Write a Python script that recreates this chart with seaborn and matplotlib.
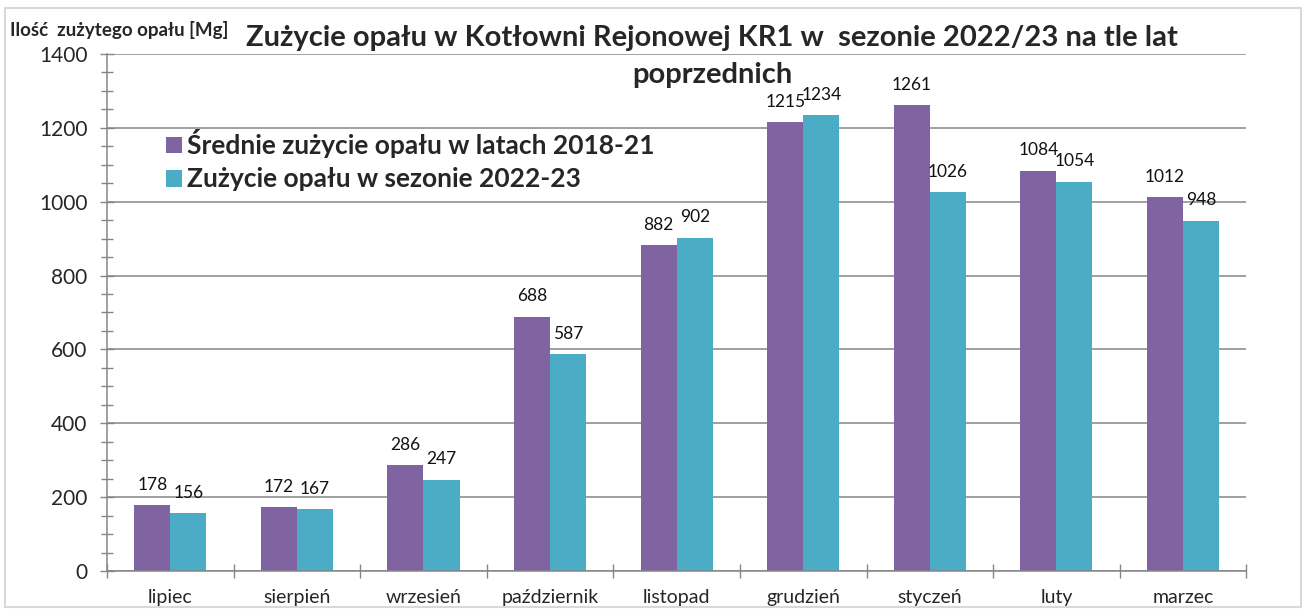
import numpy as np
import pandas as pd
import matplotlib
matplotlib.use("Agg")
import matplotlib.pyplot as plt
from matplotlib.patches import Rectangle
from matplotlib.ticker import MultipleLocator, FixedLocator
import seaborn as sns

# data
months = ["lipiec", "sierpień", "wrzesień", "październik", "listopad",
          "grudzień", "styczeń", "luty", "marzec"]
avg_2018_21 = [178, 172, 286, 688, 882, 1215, 1261, 1084, 1012]
season_2022_23 = [156, 167, 247, 587, 902, 1234, 1026, 1054, 948]
series_names = ["Średnie zużycie opału w latach 2018-21",
                "Zużycie opału w sezonie 2022-23"]
title_lines = ["Zużycie opału w Kotłowni Rejonowej KR1 w  sezonie 2022/23 na tle lat",
               "poprzednich"]

df = pd.DataFrame({
    "miesiac": months * 2,
    "seria": [series_names[0]] * len(months) + [series_names[1]] * len(months),
    "zuzycie": avg_2018_21 + season_2022_23,
})

sns.set_theme(style="white")
plt.rcParams["font.family"] = ["Lato", "DejaVu Sans"]

fig = plt.figure(figsize=(13.02, 6.09), dpi=100)
ax = fig.add_axes([0.0822, 0.0624, 0.875, 0.849])

palette = ["#8064A2", "#4BACC6"]
sns.barplot(data=df, x="miesiac", y="zuzycie", hue="seria", order=months,
            hue_order=series_names, palette=palette, width=0.57,
            linewidth=0, saturation=1, ax=ax)

for cont in ax.containers:
    ax.bar_label(cont, fmt="{:.0f}", padding=9, fontsize=12.5, color="#111111")

ax.set_ylim(0, 1400)
ax.set_xlim(-0.5, len(months) - 0.5)
ax.yaxis.set_major_locator(MultipleLocator(200))
ax.yaxis.set_minor_locator(MultipleLocator(50))
ax.xaxis.set_minor_locator(FixedLocator(np.arange(-0.5, len(months), 1)))
ax.grid(axis="y", which="major", color="#868686", lw=1.1)
ax.set_axisbelow(True)

ax.tick_params(axis="y", which="both", direction="inout", left=True,
               color="#868686", labelsize=15, pad=9)
ax.tick_params(axis="y", which="major", length=10, width=1)
ax.tick_params(axis="y", which="minor", length=8, width=1)
ax.tick_params(axis="x", which="major", length=0, labelsize=14, pad=13)
ax.tick_params(axis="x", which="minor", bottom=True, direction="inout",
               length=10, width=1, color="#868686")

for s in ["top", "right"]:
    ax.spines[s].set_visible(False)
for s in ["left", "bottom"]:
    ax.spines[s].set_color("#868686")
    ax.spines[s].set_linewidth(1.1)

ax.set_xlabel("")
ax.set_ylabel("")

leg = ax.legend(loc="upper left", bbox_to_anchor=(0.04, 0.88), frameon=False,
                fontsize=19, handlelength=0.6, handleheight=0.6,
                handletextpad=0.2, labelspacing=0.35, borderpad=0)
for t in leg.get_texts():
    t.set_fontweight("bold")

# title in two separate lines, as in the original
fig.text(0.547, 0.938, title_lines[0], ha="center", va="center",
         fontsize=21, fontweight="bold")
fig.text(0.547, 0.877, title_lines[1], ha="center", va="center",
         fontsize=21, fontweight="bold")
fig.text(0.008, 0.951, "Ilość  zużytego opału [Mg]", ha="left", va="center",
         fontsize=13.5, fontweight="bold")

fig.patches.append(Rectangle((0.004, 0.003), 0.995, 0.984, transform=fig.transFigure,
                             fill=False, edgecolor="#d9d9d9", lw=1.5))

fig.savefig("out.png", dpi=100)
